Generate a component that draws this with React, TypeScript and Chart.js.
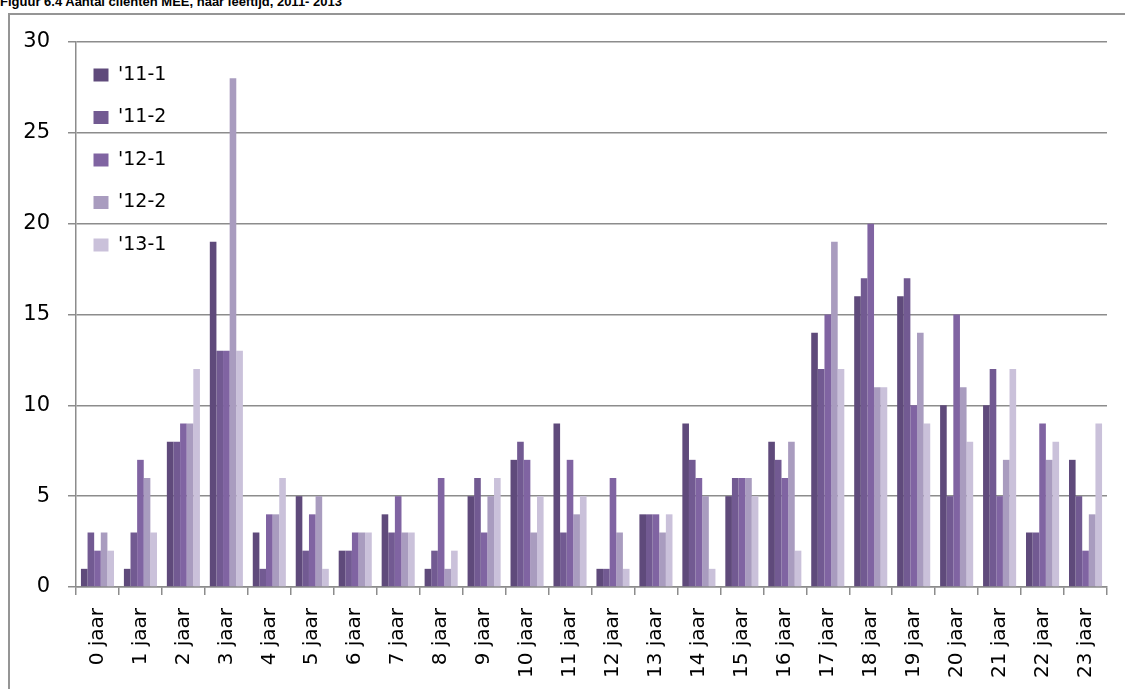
import React, { useEffect, useRef } from "react";
import { Chart, registerables } from "chart.js";

Chart.register(...registerables);

const categories = [
  "0 jaar", "1 jaar", "2 jaar", "3 jaar", "4 jaar", "5 jaar", "6 jaar", "7 jaar",
  "8 jaar", "9 jaar", "10 jaar", "11 jaar", "12 jaar", "13 jaar", "14 jaar", "15 jaar",
  "16 jaar", "17 jaar", "18 jaar", "19 jaar", "20 jaar", "21 jaar", "22 jaar", "23 jaar",
];

const s11_1 = [1, 1, 8, 19, 3, 5, 2, 4, 1, 5, 7, 9, 1, 4, 9, 5, 8, 14, 16, 16, 10, 10, 3, 7];
const s11_2 = [3, 3, 8, 13, 1, 2, 2, 3, 2, 6, 8, 3, 1, 4, 7, 6, 7, 12, 17, 17, 5, 12, 3, 5];
const s12_1 = [2, 7, 9, 13, 4, 4, 3, 5, 6, 3, 7, 7, 6, 4, 6, 6, 6, 15, 20, 10, 15, 5, 9, 2];
const s12_2 = [3, 6, 9, 28, 4, 5, 3, 3, 1, 5, 3, 4, 3, 3, 5, 6, 8, 19, 11, 14, 11, 7, 7, 4];
const s13_1 = [2, 3, 12, 13, 6, 1, 3, 3, 2, 6, 5, 5, 1, 4, 1, 5, 2, 12, 11, 9, 8, 12, 8, 9];

const seriesNames = ["'11-1", "'11-2", "'12-1", "'12-2", "'13-1"];
const seriesColors = ["#5f4a7b", "#725a92", "#8064a2", "#a99cbf", "#cac1da"];

const yTicks = [0, 5, 10, 15, 20, 25, 30];

const TITLE = "Figuur 6.4 Aantal cliënten MEE, naar leeftijd, 2011- 2013";

const GRID = "#8c8c8c";
const AXIS_FONT = "'DejaVu Sans', sans-serif";

export default function App() {
  const canvasRef = useRef<HTMLCanvasElement | null>(null);

  useEffect(() => {
    const canvas = canvasRef.current;
    if (!canvas) return;
    const allSeries = [s11_1, s11_2, s12_1, s12_2, s13_1];

    const legendPlace = {
      id: "legendPlace",
      afterLayout(chart: any) {
        const lg = chart.legend;
        const ca = chart.chartArea;
        if (lg && ca) {
          const h = lg.height;
          lg.left = ca.left - 6;
          lg.top = ca.top;
          lg.bottom = ca.top + h;
        }
      },
    };

    const chart = new Chart(canvas, {
      type: "bar",
      data: {
        labels: categories,
        datasets: allSeries.map((d, i) => ({
          label: seriesNames[i],
          data: d,
          backgroundColor: seriesColors[i],
          borderWidth: 0,
          categoryPercentage: 0.77,
          barPercentage: 1.0,
        })),
      },
      options: {
        responsive: false,
        animation: false,
        layout: { padding: { left: 0, top: 42, right: 18, bottom: 0 } },
        plugins: {
          title: { display: false },
          tooltip: { enabled: false },
          legend: {
            position: "chartArea" as any,
            align: "start",
            labels: {
              boxWidth: 15,
              boxHeight: 13,
              padding: 23.5,
              color: "#000",
              font: { family: AXIS_FONT, size: 19 },
            },
          },
        },
        scales: {
          x: {
            grid: {
              display: true,
              drawOnChartArea: false,
              drawTicks: true,
              tickLength: 8,
              color: GRID,
              lineWidth: 1.5,
              offset: true,
            },
            border: { display: true, color: GRID, width: 1.5 },
            ticks: {
              color: "#000",
              minRotation: 90,
              maxRotation: 90,
              autoSkip: false,
              padding: 13,
              font: { family: AXIS_FONT, size: 20 },
            },
            afterFit(scale: any) {
              scale.height = 102;
            },
          },
          y: {
            min: 0,
            max: 30,
            afterBuildTicks(scale: any) {
              scale.ticks = yTicks.map((v) => ({ value: v }));
            },
            grid: {
              color: GRID,
              lineWidth: 1.5,
              drawTicks: true,
              tickLength: 8,
            },
            border: { display: true, color: GRID, width: 1.5 },
            ticks: {
              color: "#000",
              padding: 18,
              font: { family: AXIS_FONT, size: 21 },
            },
            afterFit(scale: any) {
              scale.width = 76;
            },
          },
        },
      },
      plugins: [legendPlace],
    });

    return () => {
      chart.destroy();
    };
  }, []);

  return (
    <div
      style={{
        position: "fixed",
        left: 0,
        top: 0,
        width: 1125,
        height: 689,
        overflow: "hidden",
        background: "#fff",
      }}
    >
      <div
        style={{
          position: "absolute",
          left: 0,
          top: -5,
          fontFamily: "'Liberation Sans', Arial, sans-serif",
          fontWeight: "bold",
          fontSize: 13,
          lineHeight: "13px",
          whiteSpace: "nowrap",
          color: "#000",
        }}
      >
        {TITLE}
      </div>
      <div
        style={{
          position: "absolute",
          left: 8,
          top: 13,
          width: 1200,
          height: 800,
          borderLeft: "2px solid #959595",
          borderTop: "2px solid #959595",
        }}
      />
      <canvas
        ref={canvasRef}
        width={1125}
        height={689}
        style={{ position: "absolute", left: 0, top: 0, width: 1125, height: 689 }}
      />
    </div>
  );
}
